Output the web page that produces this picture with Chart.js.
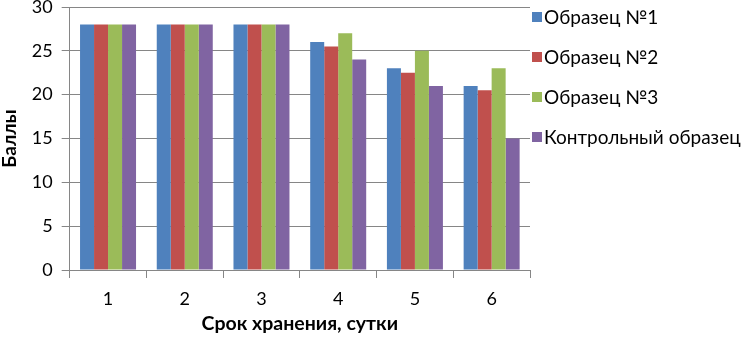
<!DOCTYPE html>
<html>
<head>
<meta charset="utf-8">
<script src="https://cdn.jsdelivr.net/npm/chart.js@4.4.1/dist/chart.umd.min.js"></script>
<style>
    html, body { margin: 0; padding: 0; background: #fff; }
    #wrap { width: 744px; height: 338px; }
</style>
</head>
<body>
<div id="wrap"><canvas id="storageChart" width="744" height="338"></canvas></div>
<script>
    // срок хранения, сутки
    const days = ['1', '2', '3', '4', '5', '6'];

    const sample1 = [28, 28, 28, 26, 23, 21];
    const sample2 = [28, 28, 28, 25.5, 22.5, 20.5];
    const sample3 = [28, 28, 28, 27, 25, 23];
    const control = [28, 28, 28, 24, 21, 15];

    const seriesNames = ['Образец №1', 'Образец №2', 'Образец №3', 'Контрольный образец'];
    const seriesColors = ['#4F81BD', '#C0504D', '#9BBB59', '#8064A2'];

    const FONT = 'Lato, Carlito, Calibri, sans-serif';
    const gridGray = '#868686';

    const makeSet = (i, values) => ({
        label: seriesNames[i],
        data: values,
        backgroundColor: seriesColors[i],
        borderWidth: 0,
        barPercentage: 1,
        categoryPercentage: 0.73
    });

    // легенда справа, как в Excel: квадрат + подпись
    const sideLegend = {
        id: 'sideLegend',
        afterDraw(chart) {
            const c = chart.ctx;
            const x0 = chart.chartArea.right + 2;
            c.save();
            c.font = '19px ' + FONT;
            c.textBaseline = 'middle';
            c.textAlign = 'left';
            chart.data.datasets.forEach((ds, i) => {
                const cy = 17 + i * 40;
                c.fillStyle = ds.backgroundColor;
                c.fillRect(x0, cy - 5, 10, 10);
                c.fillStyle = '#000';
                c.fillText(ds.label, x0 + 12, cy + 1);
            });
            c.restore();
        }
    };

    const ctx = document.getElementById('storageChart').getContext('2d');

    new Chart(ctx, {
        type: 'bar',
        data: {
            labels: days,
            datasets: [
                makeSet(0, sample1),
                makeSet(1, sample2),
                makeSet(2, sample3),
                makeSet(3, control)
            ]
        },
        plugins: [sideLegend],
        options: {
            responsive: false,
            animation: false,
            layout: { padding: { top: 7, left: -2, right: 214, bottom: 3 } },
            plugins: {
                legend: { display: false },
                tooltip: { enabled: false }
            },
            scales: {
                x: {
                    afterFit(scale) { scale.paddingLeft = 0; scale.paddingRight = 0; },
                    grid: {
                        drawOnChartArea: false,
                        drawTicks: true,
                        tickLength: 8,
                        color: gridGray
                    },
                    border: { color: gridGray },
                    ticks: {
                        color: '#000',
                        padding: 10,
                        font: { family: FONT, size: 18 }
                    },
                    title: {
                        display: true,
                        text: 'Срок хранения, сутки',
                        color: '#000',
                        font: { family: FONT, size: 19.5, weight: 'bold' },
                        padding: { top: -8, bottom: 0 }
                    }
                },
                y: {
                    min: 0,
                    max: 30,
                    afterFit(scale) { scale.paddingTop = 0; scale.paddingBottom = 0; },
                    grid: {
                        color: gridGray,
                        tickLength: 8
                    },
                    border: { color: gridGray },
                    ticks: {
                        stepSize: 5,
                        color: '#000',
                        padding: 9,
                        font: { family: FONT, size: 18 }
                    },
                    title: {
                        display: true,
                        text: 'Баллы',
                        color: '#000',
                        font: { family: FONT, size: 19, weight: 'bold' },
                        padding: { top: 0, bottom: 2 }
                    }
                }
            }
        }
    });
</script>
</body>
</html>
